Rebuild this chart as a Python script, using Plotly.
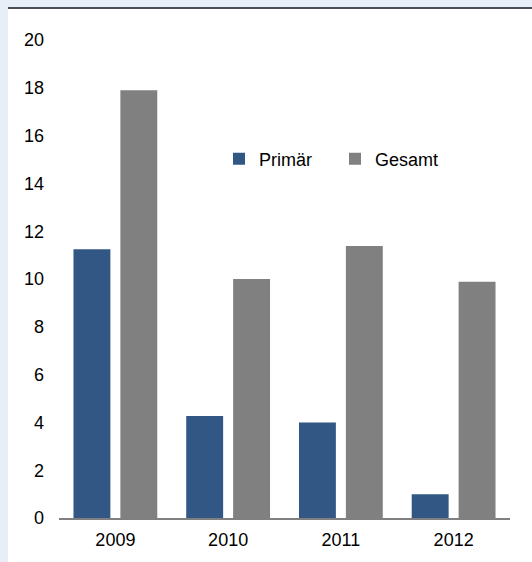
import plotly.graph_objects as go

years = ["2009", "2010", "2011", "2012"]
primaer = [11.25, 4.27, 4.0, 0.99]
gesamt = [17.9, 10.0, 11.38, 9.89]
y_ticks = list(range(0, 21, 2))

W, H = 532, 562
L, R, T, B = 59, 22, 40, 44
pw, ph = W - L - R, H - T - B

def px_x(x):
    return (x - L) / pw

def px_y(y):
    return (H - B - y) / ph

fig = go.Figure()
fig.add_trace(go.Bar(x=years, y=primaer, name="Primär", marker=dict(color="#325784", line=dict(width=0))))
fig.add_trace(go.Bar(x=years, y=gesamt, name="Gesamt", marker=dict(color="#808080", line=dict(width=0))))

font = dict(family="Liberation Sans, Arial, sans-serif", size=18, color="#000000")

fig.update_layout(
    width=W, height=H,
    margin=dict(l=L, r=R, t=T, b=B, pad=0),
    paper_bgcolor="#e8eef7",
    plot_bgcolor="#ffffff",
    font=font,
    barmode="group",
    bargap=0.168,
    bargroupgap=0.213,
    showlegend=True,
    legend=dict(
        orientation="h", x=px_x(219), xanchor="left", y=px_y(159), yanchor="middle",
        bgcolor="rgba(0,0,0,0)", font=font, entrywidth=71, entrywidthmode="pixels",
        itemwidth=30, traceorder="normal",
    ),
    xaxis=dict(
        showline=True, linecolor="#808080", linewidth=2, showgrid=False, ticks="",
        tickfont=font, zeroline=False, ticklabelstandoff=4,
    ),
    yaxis=dict(
        range=[0, 20], tickvals=y_ticks, showgrid=False, showline=False, zeroline=False,
        ticks="", tickfont=font, ticklabelstandoff=14,
    ),
    shapes=[
        dict(type="rect", xref="paper", yref="paper", x0=px_x(8), x1=px_x(W + 5), y0=px_y(H + 5), y1=px_y(9),
             fillcolor="#ffffff", line=dict(width=0), layer="below"),
        dict(type="line", xref="paper", yref="paper", x0=px_x(8), x1=px_x(W + 5), y0=px_y(8), y1=px_y(8),
             line=dict(color="#4a4e54", width=2), layer="above"),
    ],
)

fig.write_html("out.html", config={"displayModeBar": False},
               post_script="document.body.style.margin='0';")
